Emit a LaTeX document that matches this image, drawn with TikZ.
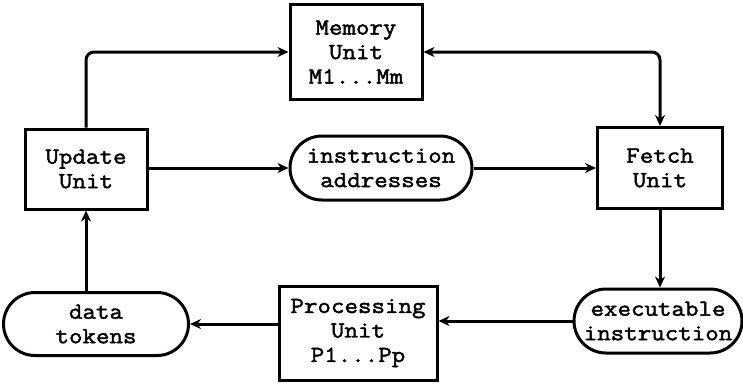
\documentclass[tikz,border=0pt]{standalone}
\usepackage{fontspec}
\newfontfamily\tw{Latin Modern Mono}[FakeBold=2, FakeStretch=1.14]
\usetikzlibrary{shapes.misc,arrows.meta}
\tikzset{
  unitbox/.style={draw, line width=3pt, rectangle, inner sep=0pt, align=center,
    font=\fontsize{23}{24.5}\tw},
  tokbox/.style={draw, line width=3pt, rounded rectangle, inner sep=0pt, align=center,
    font=\fontsize{23}{24.5}\tw},
  tip/.tip={Stealth[length=11pt,width=10pt,inset=3.5pt]},
  conn/.style={line width=3pt, -tip},
}
\begin{document}
\begin{tikzpicture}[x=1pt,y=-1pt]
\useasboundingbox (0,0) rectangle (743,384);
\node[unitbox, minimum width=132pt, minimum height=95pt] (mem) at (356,52) {Memory\\Unit\\M1...Mm};
\node[unitbox, minimum width=122pt, minimum height=80pt] (upd) at (86,169) {Update\\Unit};
\node[tokbox, minimum width=182pt, minimum height=64pt] (ins) at (381,168) {instruction\\addresses};
\node[unitbox, minimum width=125pt, minimum height=81pt] (fet) at (660,168) {Fetch\\Unit};
\node[tokbox, minimum width=168pt, minimum height=64pt] (exe) at (658,321) {executable\\instruction};
\node[unitbox, minimum width=158pt, minimum height=94pt] (pro) at (358,333) {Processing\\Unit\\P1...Pp};
\node[tokbox, minimum width=185pt, minimum height=63pt] (dat) at (96,324) {data\\tokens};

\draw[conn, rounded corners=8pt] (upd.north) |- (mem.west);
\draw[line width=3pt, tip-tip, rounded corners=8pt] (mem.east) -| (fet.north);
\draw[conn] (upd.east |- ins.west) -- (ins.west);
\draw[conn] (ins.east) -- (ins.east -| fet.west);
\draw[conn] (fet.south) -- (fet.south |- exe.north);
\draw[conn] (exe.west) -- (exe.west -| pro.east);
\draw[conn] (pro.west |- dat.east) -- (dat.east);
\draw[conn] (upd.south |- dat.north) -- (upd.south);
\end{tikzpicture}
\end{document}
